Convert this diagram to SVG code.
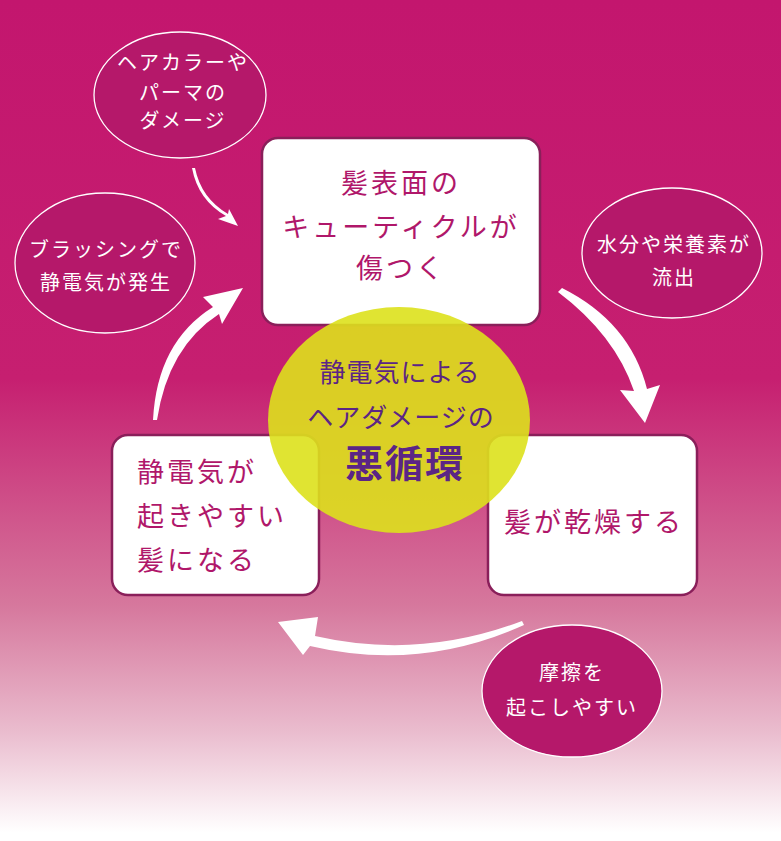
<svg xmlns="http://www.w3.org/2000/svg" width="781" height="841" viewBox="0 0 781 841">
<defs>
<linearGradient id="bg" x1="0" y1="0" x2="0" y2="841" gradientUnits="userSpaceOnUse">
<stop offset="0" stop-color="#C3166E"/>
<stop offset="0.45" stop-color="#C61F70"/>
<stop offset="0.72" stop-color="#D6789D"/>
<stop offset="0.87" stop-color="#EABCCE"/>
<stop offset="0.99" stop-color="#FFFFFF"/>
<stop offset="1" stop-color="#FFFFFF"/>
</linearGradient>
<style>
.bub{fill:#B5186A;stroke:#FFFFFF;stroke-width:1.3}
.bt{font-family:"Noto Sans CJK JP","Noto Sans",sans-serif;font-size:20px;fill:#FFFFFF;text-anchor:middle;letter-spacing:2px}
.box{fill:#FFFFFF;stroke:#8A1F5A;stroke-width:2.5}
.xt{font-family:"Noto Sans CJK JP","Noto Sans",sans-serif;font-size:27px;fill:#B0176A;letter-spacing:3px}
.ct{font-family:"Noto Sans CJK JP","Noto Sans",sans-serif;font-size:26px;fill:#5B2585;text-anchor:middle;letter-spacing:1px}
.arr{fill:#FFFFFF}
</style>
</defs>
<rect x="0" y="0" width="781" height="841" fill="url(#bg)"/>

<g id="bubble-haircolor">
<ellipse class="bub" cx="180" cy="95" rx="86" ry="63"/>
<text class="bt" x="183" y="70">ヘアカラーや</text>
<text class="bt" x="183" y="100">パーマの</text>
<text class="bt" x="183" y="128">ダメージ</text>
</g>
<g id="bubble-brushing">
<ellipse class="bub" cx="105" cy="263" rx="90" ry="70"/>
<text class="bt" x="106" y="257">ブラッシングで</text>
<text class="bt" x="106" y="290">静電気が発生</text>
</g>
<g id="bubble-moisture">
<ellipse class="bub" cx="672" cy="253" rx="90" ry="65"/>
<text class="bt" x="674" y="252">水分や栄養素が</text>
<text class="bt" x="674" y="285">流出</text>
</g>
<g id="bubble-friction">
<ellipse class="bub" cx="572" cy="691" rx="90" ry="66" fill="#B9176A"/>
<text class="bt" x="572" y="680">摩擦を</text>
<text class="bt" x="572" y="715">起こしやすい</text>
</g>

<g id="connectors">
<path class="arr" d="M192,168 Q198,200 226,216 L218,219 L238,226 L229,209 L228,214 Q201,198 195,168 Z"/>
<path class="arr" d="M153,420 Q157,342 213,307 L203,297 L243,288 L222,324 L219,314 Q168,347 157,420 Z"/>
<path class="arr" d="M558,292 Q615,335 634,391 L620,390 L645,423 L660,385 L647,389 Q630,322 562,288 Z"/>
<path class="arr" d="M522,621 Q420,660 315,636 L318,617 L278,622 L303,655 L310,646 Q420,672 524,625 Z"/>
</g>

<g id="box-cuticle">
<rect class="box" x="262" y="138" width="278" height="187" rx="16"/>
<text class="xt" x="401" y="193" text-anchor="middle">髪表面の</text>
<text class="xt" x="401" y="237" text-anchor="middle">キューティクルが</text>
<text class="xt" x="401" y="278" text-anchor="middle">傷つく</text>
</g>
<g id="box-dry">
<rect class="box" x="488" y="435" width="209" height="160" rx="16"/>
<text class="xt" x="594" y="532" text-anchor="middle">髪が乾燥する</text>
</g>
<g id="box-static">
<rect class="box" x="112" y="435" width="207" height="160" rx="16"/>
<text class="xt" x="137" y="482">静電気が</text>
<text class="xt" x="137" y="526">起きやすい</text>
<text class="xt" x="137" y="570">髪になる</text>
</g>

<g id="center">
<ellipse cx="399" cy="420" rx="131" ry="113" fill="#DDE11C" fill-opacity="0.9"/>
<text class="ct" x="400" y="382">静電気による</text>
<text class="ct" x="401" y="427">ヘアダメージの</text>
<text class="ct" x="405" y="477" style="font-size:38px;font-weight:bold;letter-spacing:2px">悪循環</text>
</g>
</svg>
